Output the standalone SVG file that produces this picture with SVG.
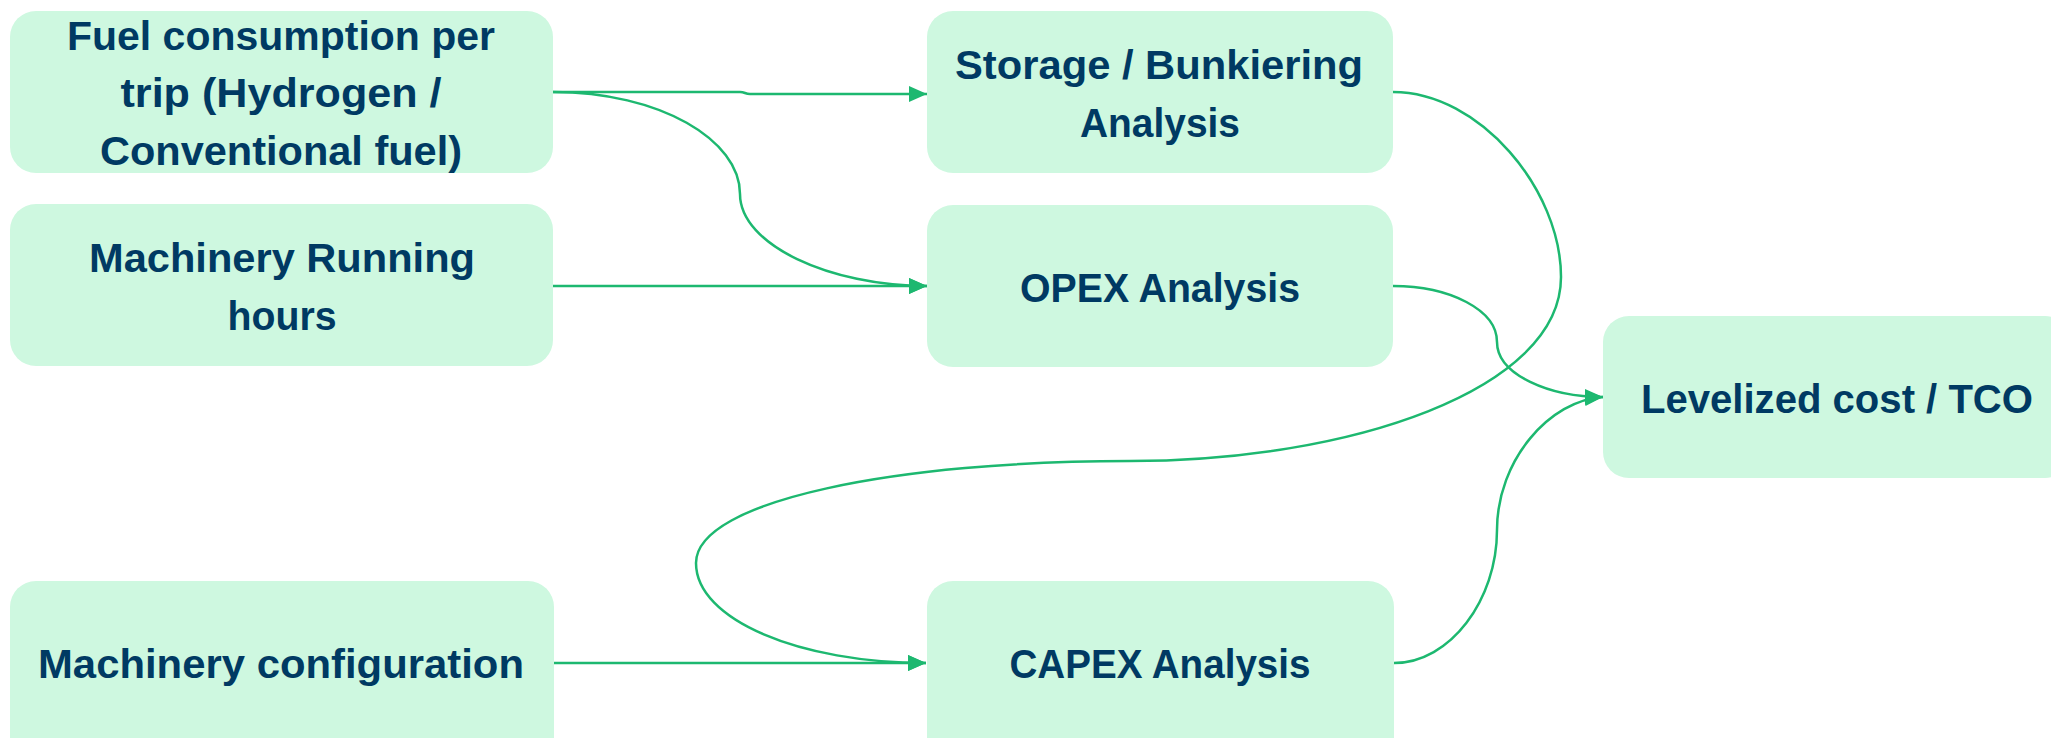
<svg xmlns="http://www.w3.org/2000/svg" width="2051" height="738" viewBox="0 0 2051 738">
<style>
.box{fill:#CEF8E0;}
.t{font-family:"Liberation Sans",Arial,sans-serif;font-weight:bold;font-size:41px;fill:#003A63;text-anchor:middle;}
.c{fill:none;stroke:#1DB870;stroke-width:2.5;}
</style>
<defs>
<marker id="ah" markerUnits="userSpaceOnUse" markerWidth="20" markerHeight="18" refX="18" refY="8" orient="auto">
<path d="M0,0 L18,8 L0,16 z" fill="#1DB870"/>
</marker>
</defs>
<rect width="2051" height="738" fill="#FFFFFF"/>
<g id="fuel">
<rect class="box" x="10" y="11" width="543" height="162" rx="26" ry="26"/>
<text class="t" x="281" y="50" textLength="428" lengthAdjust="spacingAndGlyphs">Fuel consumption per</text>
<text class="t" x="281" y="107" textLength="321" lengthAdjust="spacingAndGlyphs">trip (Hydrogen /</text>
<text class="t" x="281" y="165" textLength="362" lengthAdjust="spacingAndGlyphs">Conventional fuel)</text>
</g>
<g id="running">
<rect class="box" x="10" y="204" width="543" height="162" rx="26" ry="26"/>
<text class="t" x="282" y="272" textLength="386" lengthAdjust="spacingAndGlyphs">Machinery Running</text>
<text class="t" x="282" y="330" textLength="109" lengthAdjust="spacingAndGlyphs">hours</text>
</g>
<g id="config">
<rect class="box" x="10" y="581" width="544" height="200" rx="26" ry="26"/>
<text class="t" x="281" y="678" textLength="486" lengthAdjust="spacingAndGlyphs">Machinery configuration</text>
</g>
<g id="storage">
<rect class="box" x="927" y="11" width="466" height="162" rx="26" ry="26"/>
<text class="t" x="1159" y="79" textLength="408" lengthAdjust="spacingAndGlyphs">Storage / Bunkiering</text>
<text class="t" x="1160" y="137" textLength="160" lengthAdjust="spacingAndGlyphs">Analysis</text>
</g>
<g id="opex">
<rect class="box" x="927" y="205" width="466" height="162" rx="26" ry="26"/>
<text class="t" x="1160" y="302" textLength="280" lengthAdjust="spacingAndGlyphs">OPEX Analysis</text>
</g>
<g id="capex">
<rect class="box" x="927" y="581" width="467" height="200" rx="26" ry="26"/>
<text class="t" x="1160" y="678" textLength="301" lengthAdjust="spacingAndGlyphs">CAPEX Analysis</text>
</g>
<g id="tco">
<rect class="box" x="1603" y="316" width="468" height="162" rx="26" ry="26"/>
<text class="t" x="1837" y="413" textLength="392" lengthAdjust="spacingAndGlyphs">Levelized cost / TCO</text>
</g>
<g id="connectors">
<path class="c" marker-end="url(#ah)" d="M553,92 L740,92 C745,92 745,94 750,94 L927,94"/>
<path class="c" marker-end="url(#ah)" d="M553,92 C660,92 740,140 740,194 C740,245 830,286 927,286"/>
<path class="c" marker-end="url(#ah)" d="M553,286 L927,286"/>
<path class="c" marker-end="url(#ah)" d="M554,663 L926,663"/>
<path class="c" marker-end="url(#ah)" d="M1393,92 C1480,92 1561,190 1561,277 C1561,390 1350,461 1130,461 C900,461 696,500 696,563 C696,620 800,663 926,663"/>
<path class="c" marker-end="url(#ah)" d="M1393,286 C1450,286 1497,310 1497,342 C1497,375 1550,397 1603,397"/>
<path class="c" marker-end="url(#ah)" d="M1394,663 C1450,663 1497,600 1497,530 C1497,460 1550,400 1603,397"/>
</g>
</svg>
